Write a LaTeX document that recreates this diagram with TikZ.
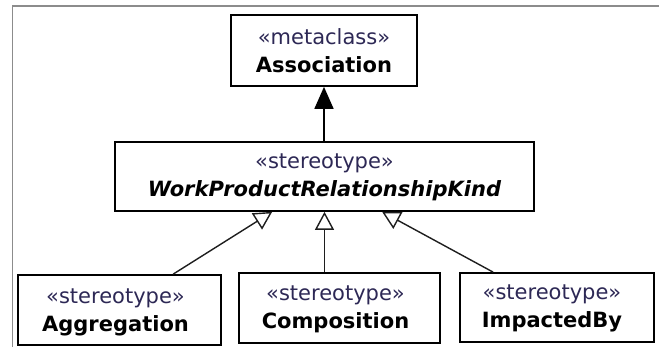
\documentclass[tikz,border=0pt]{standalone}
\usepackage{fontspec}
\setmainfont{DejaVu Sans}
\usetikzlibrary{arrows.meta}
\definecolor{stereo}{RGB}{45,40,85}
\definecolor{framegray}{RGB}{140,140,140}
\definecolor{edge}{RGB}{30,30,30}
\tikzset{
  classbox/.style={draw=black, line width=1.7pt, fill=white, inner sep=0pt},
  boxtext/.style={align=center, inner sep=0pt,
    font=\fontsize{21}{28}\selectfont},
  realize/.style={draw=edge, line width=1.4pt,
    -{Triangle[open, length=18pt, width=19pt, line width=1.4pt]}},
  extend/.style={draw=black, line width=1.6pt,
    -{Triangle[length=22pt, width=19pt]}},
  frameline/.style={draw=framegray, line width=1.5pt}
}
\newcommand{\stlabel}[1]{{\color{stereo}#1}}
\begin{document}
\begin{tikzpicture}[x=1pt, y=-1pt]
  \useasboundingbox (0,0) rectangle (659,347);
  \fill[white] (0,0) rectangle (659,347);

  % outer diagram frame (only top and left edges visible)
  \coordinate (frTL) at (12.5,6);
  \coordinate (frTR) at (659,6);
  \coordinate (frBL) at (12.5,347);
  \draw[frameline] (frTR) -- (frTL) -- (frBL);

  % metaclass
  \node[classbox, minimum width=186, minimum height=71] (assoc) at (324,50.5) {};
  \node[boxtext] (assoct) at (assoc.center)
    {\stlabel{«metaclass»}\\\textbf{Association}};

  % abstract stereotype
  \node[classbox, minimum width=419, minimum height=69] (wprk) at (324.5,176.5) {};
  \node[boxtext] (wprkt) at ([yshift=-1]wprk.center)
    {\stlabel{«stereotype»}\\\textbf{\itshape WorkProductRelationshipKind}};

  % concrete stereotypes
  \node[classbox, minimum width=203, minimum height=70] (agg) at (119.5,310) {};
  \node[boxtext] (aggt) at ([xshift=-4,yshift=-2]agg.center)
    {\stlabel{«stereotype»}\\\textbf{Aggregation}};

  \node[classbox, minimum width=201, minimum height=70] (comp) at (339.5,308) {};
  \node[boxtext] (compt) at ([xshift=-4,yshift=-1]comp.center)
    {\stlabel{«stereotype»}\\\textbf{Composition}};

  \node[classbox, minimum width=194, minimum height=69] (imp) at (557,307.5) {};
  \node[boxtext] (impt) at ([xshift=-5,yshift=-1]imp.center)
    {\stlabel{«stereotype»}\\\textbf{ImpactedBy}};

  % extension of the metaclass
  \draw[extend] (wprk.north -| assoc.south) -- (assoc.south);

  % generalizations
  \draw[realize] ([xshift=156]agg.north west) -- ([xshift=158]wprk.south west);
  \draw[realize] (wprk.south |- comp.north) -- (wprk.south);
  \draw[realize] ([xshift=34]imp.north west) -- ([xshift=268]wprk.south west);
\end{tikzpicture}
\end{document}
